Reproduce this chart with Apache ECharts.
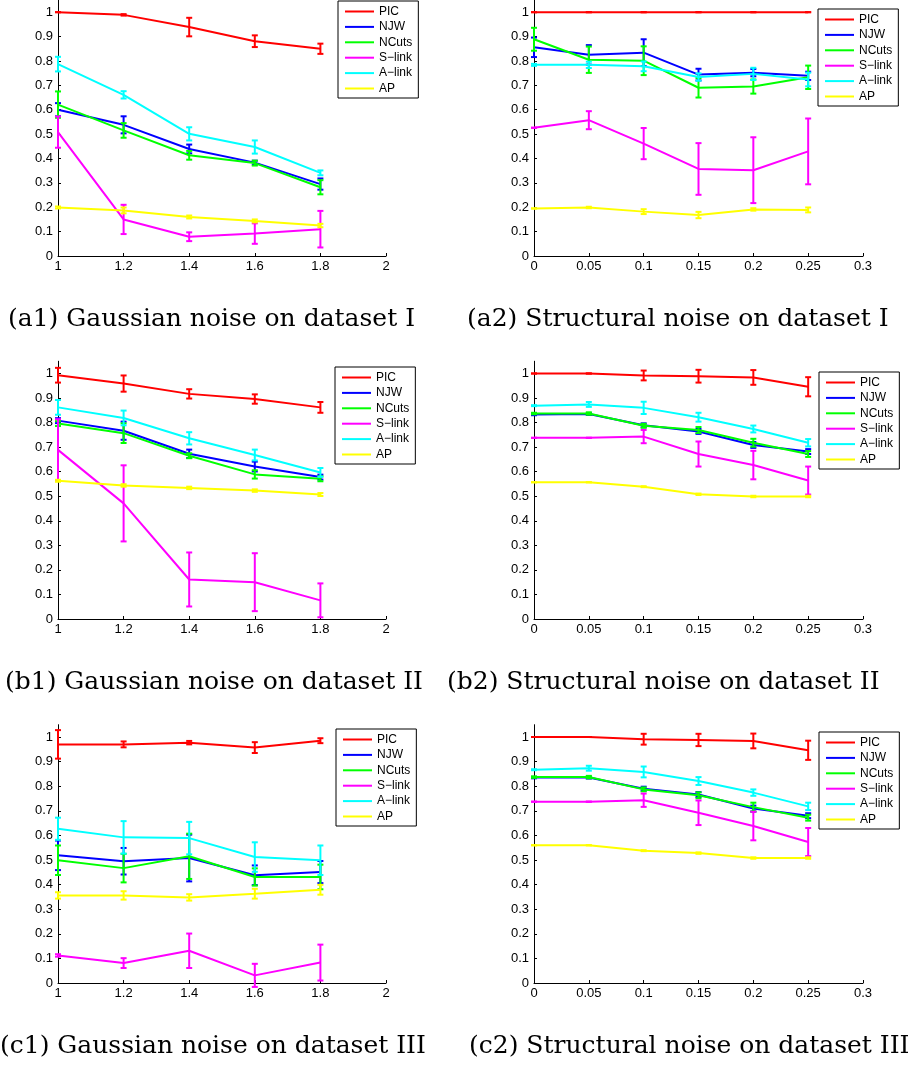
<!DOCTYPE html>
<html>
<head>
<meta charset="utf-8">
<script src="https://cdn.jsdelivr.net/npm/echarts@6/dist/echarts.min.js"></script>
<style>
html,body{margin:0;padding:0;background:#fff;}
#chart{width:912px;height:1066px;}
</style>
</head>
<body>
<div id="chart"></div>
<script>
// ---------- axes / ticks ----------
const gaussX = [1, 1.2, 1.4, 1.6, 1.8];
const structX = [0, 0.05, 0.1, 0.15, 0.2, 0.25];
const gaussXTicks = [1, 1.2, 1.4, 1.6, 1.8, 2];
const structXTicks = [0, 0.05, 0.1, 0.15, 0.2, 0.25, 0.3];
const yTicks = [0, 0.1, 0.2, 0.3, 0.4, 0.5, 0.6, 0.7, 0.8, 0.9, 1];
const methods = ['PIC', 'NJW', 'NCuts', 'S\u2212link', 'A\u2212link', 'AP'];
const captions = [
  '(a1) Gaussian noise on dataset I',
  '(a2) Structural noise on dataset I',
  '(b1) Gaussian noise on dataset II',
  '(b2) Structural noise on dataset II',
  '(c1) Gaussian noise on dataset III',
  '(c2) Structural noise on dataset III'
];

// ---------- (a1) ----------
const a1PIC = [1.000, 0.989, 0.939, 0.881, 0.850];
const a1PICErr = [0, 0.003, 0.038, 0.024, 0.021];
const a1NJW = [0.600, 0.538, 0.439, 0.383, 0.295];
const a1NJWErr = [0.027, 0.035, 0.018, 0.008, 0.023];
const a1NCuts = [0.621, 0.515, 0.413, 0.381, 0.282];
const a1NCutsErr = [0.054, 0.030, 0.018, 0.010, 0.029];
const a1SLink = [0.508, 0.150, 0.079, 0.092, 0.110];
const a1SLinkErr = [0.064, 0.060, 0.018, 0.042, 0.075];
const a1ALink = [0.787, 0.661, 0.501, 0.447, 0.341];
const a1ALinkErr = [0.030, 0.015, 0.027, 0.027, 0.010];
const a1AP = [0.199, 0.187, 0.160, 0.144, 0.125];
const a1APErr = [0.004, 0.012, 0.006, 0.006, 0.007];

// ---------- (a2) ----------
const a2PIC = [1, 1, 1, 1, 1, 1];
const a2PICErr = [0, 0, 0, 0, 0, 0];
const a2NJW = [0.856, 0.825, 0.834, 0.744, 0.752, 0.739];
const a2NJWErr = [0.040, 0.040, 0.055, 0.024, 0.015, 0.017];
const a2NCuts = [0.889, 0.805, 0.801, 0.690, 0.695, 0.733];
const a2NCutsErr = [0.047, 0.054, 0.059, 0.040, 0.029, 0.048];
const a2SLink = [0.526, 0.557, 0.461, 0.357, 0.352, 0.429];
const a2SLinkErr = [0, 0.037, 0.064, 0.106, 0.135, 0.135];
const a2ALink = [0.784, 0.784, 0.778, 0.734, 0.747, 0.724];
const a2ALinkErr = [0.004, 0.013, 0.020, 0.015, 0.025, 0.028];
const a2AP = [0.195, 0.199, 0.182, 0.168, 0.191, 0.189];
const a2APErr = [0, 0.003, 0.010, 0.013, 0.005, 0.010];

// ---------- (b1) ----------
const b1PIC = [0.993, 0.959, 0.917, 0.896, 0.862];
const b1PICErr = [0.030, 0.033, 0.019, 0.019, 0.022];
const b1NJW = [0.808, 0.767, 0.673, 0.621, 0.578];
const b1NJWErr = [0.010, 0.037, 0.017, 0.020, 0.010];
const b1NCuts = [0.796, 0.757, 0.665, 0.589, 0.571];
const b1NCutsErr = [0.010, 0.040, 0.010, 0.017, 0.010];
const b1SLink = [0.689, 0.471, 0.161, 0.150, 0.076];
const b1SLinkErr = [0.125, 0.155, 0.110, 0.118, 0.069];
const b1ALink = [0.862, 0.819, 0.736, 0.668, 0.597];
const b1ALinkErr = [0.030, 0.030, 0.025, 0.022, 0.018];
const b1AP = [0.563, 0.544, 0.534, 0.523, 0.507];
const b1APErr = [0.004, 0.005, 0.005, 0.005, 0.006];

// ---------- (b2) ----------
const b2PIC = [1.0, 1.0, 0.992, 0.989, 0.984, 0.946];
const b2PICErr = [0, 0, 0.020, 0.026, 0.030, 0.039];
const b2NJW = [0.833, 0.835, 0.789, 0.764, 0.709, 0.682];
const b2NJWErr = [0.003, 0.004, 0.008, 0.010, 0.012, 0.010];
const b2NCuts = [0.837, 0.837, 0.787, 0.770, 0.718, 0.672];
const b2NCutsErr = [0.003, 0.005, 0.008, 0.012, 0.016, 0.012];
const b2SLink = [0.738, 0.738, 0.743, 0.672, 0.627, 0.564];
const b2SLinkErr = [0, 0, 0.027, 0.051, 0.058, 0.057];
const b2ALink = [0.869, 0.874, 0.860, 0.822, 0.774, 0.718];
const b2ALinkErr = [0.002, 0.010, 0.025, 0.018, 0.014, 0.015];
const b2AP = [0.557, 0.557, 0.539, 0.508, 0.499, 0.499];
const b2APErr = [0, 0, 0.002, 0.003, 0.003, 0.003];

// ---------- (c1) ----------
const c1PIC = [0.970, 0.970, 0.977, 0.957, 0.985];
const c1PICErr = [0.058, 0.012, 0.007, 0.022, 0.010];
const c1NJW = [0.519, 0.495, 0.508, 0.438, 0.451];
const c1NJWErr = [0.060, 0.054, 0.095, 0.040, 0.045];
const c1NCuts = [0.499, 0.467, 0.515, 0.431, 0.431];
const c1NCutsErr = [0.060, 0.058, 0.092, 0.035, 0.050];
const c1SLink = [0.112, 0.081, 0.131, 0.031, 0.083];
const c1SLinkErr = [0.005, 0.020, 0.070, 0.047, 0.073];
const c1ALink = [0.627, 0.592, 0.589, 0.512, 0.499];
const c1ALinkErr = [0.045, 0.066, 0.066, 0.060, 0.060];
const c1AP = [0.356, 0.356, 0.348, 0.363, 0.379];
const c1APErr = [0.013, 0.017, 0.013, 0.020, 0.020];

// ---------- (c2) ----------
const c2PIC = [1.0, 1.0, 0.991, 0.988, 0.984, 0.946];
const c2PICErr = [0, 0, 0.022, 0.025, 0.030, 0.039];
const c2NJW = [0.835, 0.835, 0.790, 0.766, 0.709, 0.680];
const c2NJWErr = [0.003, 0.004, 0.008, 0.010, 0.012, 0.010];
const c2NCuts = [0.837, 0.837, 0.787, 0.763, 0.715, 0.672];
const c2NCutsErr = [0.003, 0.005, 0.008, 0.012, 0.018, 0.012];
const c2SLink = [0.737, 0.737, 0.743, 0.692, 0.638, 0.573];
const c2SLinkErr = [0, 0, 0.027, 0.050, 0.058, 0.057];
const c2ALink = [0.867, 0.873, 0.858, 0.821, 0.774, 0.718];
const c2ALinkErr = [0.002, 0.010, 0.022, 0.016, 0.013, 0.015];
const c2AP = [0.560, 0.560, 0.538, 0.528, 0.508, 0.508];
const c2APErr = [0, 0, 0.002, 0.003, 0.003, 0.003];

// ---------- assembly ----------
const colors = ['#ff0000', '#0000ff', '#00ff00', '#ff00ff', '#00ffff', '#ffff00'];
const panels = [
  { x: gaussX, ticks: gaussXTicks, min: 1, max: 2, interval: 0.2,
    mean: [a1PIC, a1NJW, a1NCuts, a1SLink, a1ALink, a1AP],
    err: [a1PICErr, a1NJWErr, a1NCutsErr, a1SLinkErr, a1ALinkErr, a1APErr] },
  { x: structX, ticks: structXTicks, min: 0, max: 0.3, interval: 0.05,
    mean: [a2PIC, a2NJW, a2NCuts, a2SLink, a2ALink, a2AP],
    err: [a2PICErr, a2NJWErr, a2NCutsErr, a2SLinkErr, a2ALinkErr, a2APErr] },
  { x: gaussX, ticks: gaussXTicks, min: 1, max: 2, interval: 0.2,
    mean: [b1PIC, b1NJW, b1NCuts, b1SLink, b1ALink, b1AP],
    err: [b1PICErr, b1NJWErr, b1NCutsErr, b1SLinkErr, b1ALinkErr, b1APErr] },
  { x: structX, ticks: structXTicks, min: 0, max: 0.3, interval: 0.05,
    mean: [b2PIC, b2NJW, b2NCuts, b2SLink, b2ALink, b2AP],
    err: [b2PICErr, b2NJWErr, b2NCutsErr, b2SLinkErr, b2ALinkErr, b2APErr] },
  { x: gaussX, ticks: gaussXTicks, min: 1, max: 2, interval: 0.2,
    mean: [c1PIC, c1NJW, c1NCuts, c1SLink, c1ALink, c1AP],
    err: [c1PICErr, c1NJWErr, c1NCutsErr, c1SLinkErr, c1ALinkErr, c1APErr] },
  { x: structX, ticks: structXTicks, min: 0, max: 0.3, interval: 0.05,
    mean: [c2PIC, c2NJW, c2NCuts, c2SLink, c2ALink, c2AP],
    err: [c2PICErr, c2NJWErr, c2NCutsErr, c2SLinkErr, c2ALinkErr, c2APErr] }
];

// layout (pixels)
const yMax = 1.05;
const gridBoxes = [
  { left: 58, width: 328, zeroY: 256, unit: 246 },
  { left: 534, width: 329, zeroY: 256, unit: 246 },
  { left: 58, width: 328, zeroY: 619, unit: 245.5 },
  { left: 534, width: 329, zeroY: 619, unit: 245.5 },
  { left: 58, width: 328, zeroY: 983, unit: 246 },
  { left: 534, width: 329, zeroY: 983, unit: 246 }
];
const legendPos = [
  { left: 338, top: 1 }, { left: 818, top: 9 },
  { left: 335, top: 367 }, { left: 819, top: 372 },
  { left: 336, top: 729 }, { left: 819, top: 732 }
];
const captionPos = [
  { x: 8, y: 319 }, { x: 467, y: 319 },
  { x: 5, y: 682 }, { x: 447, y: 682 },
  { x: 0, y: 1046 }, { x: 469, y: 1046 }
];

const labelFont = { fontFamily: 'Liberation Sans', fontSize: 13, color: '#000' };

const grid = [], xAxis = [], yAxis = [], series = [], legend = [], graphic = [];

panels.forEach((p, pi) => {
  const g = gridBoxes[pi];
  const h = g.unit * yMax;
  grid.push({ left: g.left, width: g.width, top: g.zeroY - h, height: h, containLabel: false });
  xAxis.push({
    type: 'value', gridIndex: pi, min: p.min, max: p.max, interval: p.interval,
    axisLine: { show: true, lineStyle: { color: '#000', width: 1 } },
    axisTick: { show: true, inside: true, length: 3, lineStyle: { color: '#000' }, customValues: p.ticks },
    axisLabel: Object.assign({ margin: 4, customValues: p.ticks }, labelFont),
    splitLine: { show: false }
  });
  yAxis.push({
    type: 'value', gridIndex: pi, min: 0, max: yMax,
    axisLine: { show: true, lineStyle: { color: '#000', width: 1 } },
    axisTick: { show: true, inside: true, length: 3, lineStyle: { color: '#000' }, customValues: yTicks },
    axisLabel: Object.assign({ margin: 5, customValues: yTicks }, labelFont),
    splitLine: { show: false }
  });
  methods.forEach((m, mi) => {
    const col = colors[mi];
    series.push({
      name: m, type: 'line', xAxisIndex: pi, yAxisIndex: pi,
      data: p.x.map((x, i) => [x, p.mean[mi][i]]),
      showSymbol: false, symbol: 'none', silent: true, animation: false,
      lineStyle: { color: col, width: 2 }, itemStyle: { color: col },
      z: 2 + mi
    });
    series.push({
      name: m, type: 'custom', xAxisIndex: pi, yAxisIndex: pi,
      data: p.x.map((x, i) => [x, p.mean[mi][i] - p.err[mi][i], p.mean[mi][i] + p.err[mi][i]]),
      silent: true, animation: false, z: 2 + mi,
      itemStyle: { color: col },
      renderItem: (params, api) => {
        const x = api.value(0);
        const lo = api.coord([x, api.value(1)]);
        const hi = api.coord([x, api.value(2)]);
        const w = 3;
        const st = { stroke: col, lineWidth: 2 };
        return {
          type: 'group', children: [
            { type: 'line', shape: { x1: lo[0], y1: lo[1], x2: hi[0], y2: hi[1] }, style: st },
            { type: 'line', shape: { x1: lo[0] - w, y1: lo[1], x2: lo[0] + w, y2: lo[1] }, style: st },
            { type: 'line', shape: { x1: hi[0] - w, y1: hi[1], x2: hi[0] + w, y2: hi[1] }, style: st }
          ]
        };
      }
    });
  });
  legend.push({
    data: methods.slice(), orient: 'vertical',
    left: legendPos[pi].left, top: legendPos[pi].top,
    backgroundColor: '#fff', borderColor: '#000', borderWidth: 1,
    padding: [3, 6, 2, 7], itemGap: 0.4, itemWidth: 29, itemHeight: 2,
    icon: 'rect', selectedMode: false,
    textStyle: { fontFamily: 'Liberation Sans', fontSize: 12, color: '#000', lineHeight: 15 }
  });
  graphic.push({
    type: 'text', x: captionPos[pi].x, y: captionPos[pi].y,
    style: { text: captions[pi], font: '25px "DejaVu Serif"', fill: '#000', textVerticalAlign: 'middle' }
  });
});

const chart = echarts.init(document.getElementById('chart'), null, { renderer: 'canvas' });
chart.setOption({
  animation: false,
  backgroundColor: '#fff',
  grid, xAxis, yAxis, series, legend, graphic
});
</script>
</body>
</html>
